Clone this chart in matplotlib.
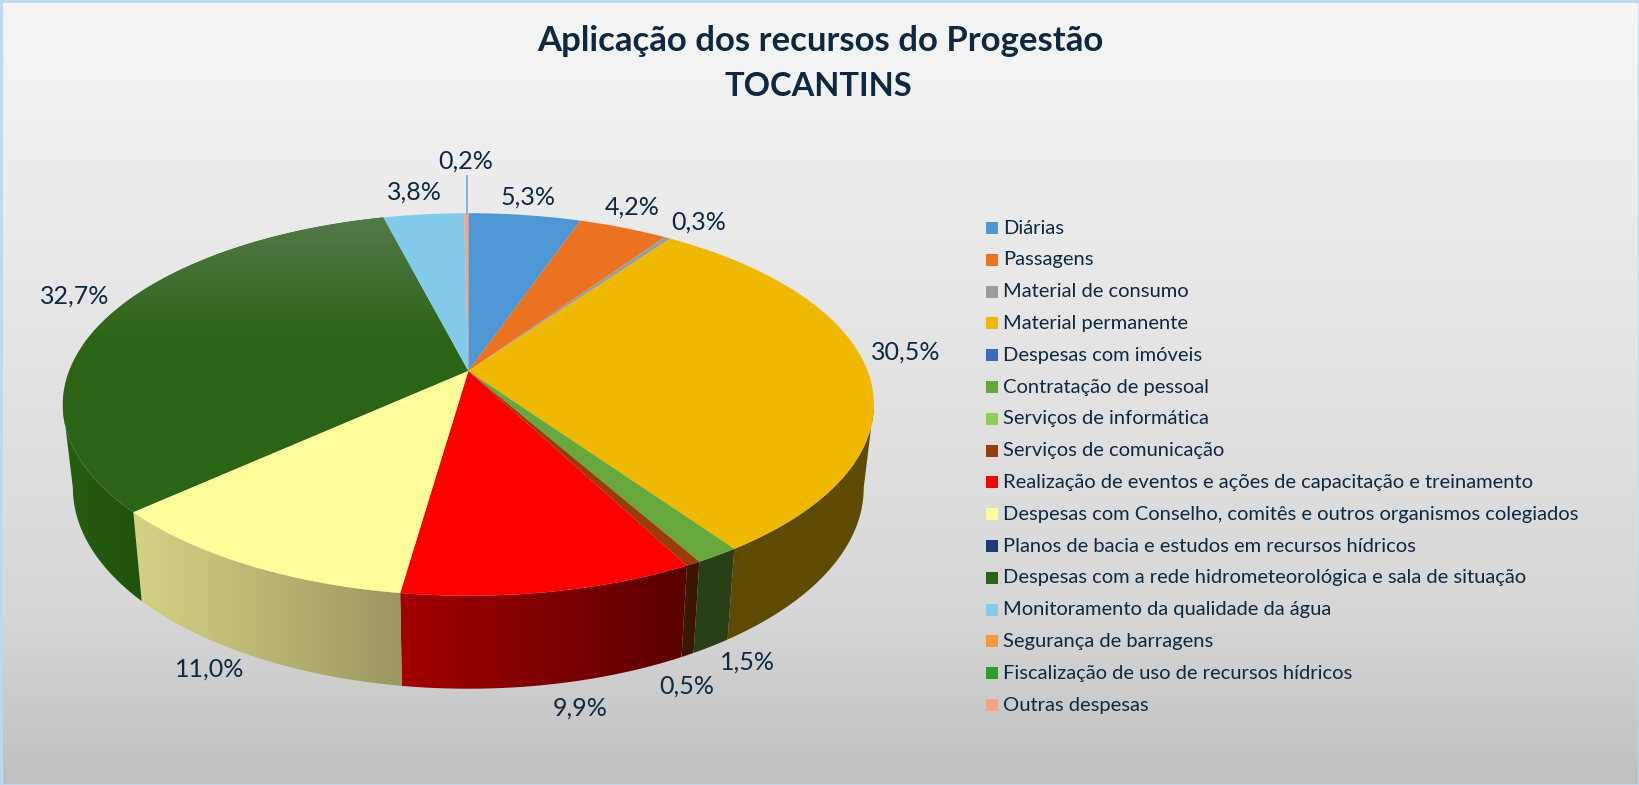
import numpy as np
import matplotlib
matplotlib.use('Agg')
import matplotlib.pyplot as plt
from matplotlib.colors import LinearSegmentedColormap
from matplotlib.patches import Polygon, Rectangle

plt.rcParams['font.family'] = ['Lato', 'DejaVu Sans']

titulo = 'Aplicação dos recursos do Progestão'
subtitulo = 'TOCANTINS'
categorias = ['Diárias', 'Passagens', 'Material de consumo', 'Material permanente',
              'Despesas com imóveis', 'Contratação de pessoal', 'Serviços de informática',
              'Serviços de comunicação', 'Realização de eventos e ações de capacitação e treinamento',
              'Despesas com Conselho, comitês e outros organismos colegiados',
              'Planos de bacia e estudos em recursos hídricos',
              'Despesas com a rede hidrometeorológica e sala de situação',
              'Monitoramento da qualidade da água', 'Segurança de barragens',
              'Fiscalização de uso de recursos hídricos', 'Outras despesas']
valores = [5.3, 4.2, 0.3, 30.5, 0, 1.5, 0, 0.5, 9.9, 11.0, 0, 32.7, 3.8, 0, 0, 0.2]
cores = ['#4f96d4', '#eb7221', '#9c9c9c', '#eeb900', '#3a6ac4', '#66a83c', '#8cce50', '#9a3b0c',
         '#ff0000', '#fdfd99', '#1f3a78', '#2a6414', '#83cbea', '#f79b3a', '#2aa02a', '#f4a582']
# cor da parede lateral (esquerda, direita), só as fatias da frente
cores_lado = {3: ('#5e4b00', '#5e4b00'), 5: ('#283f17', '#283f17'), 7: ('#3a1702', '#3a1702'),
              8: ('#a30000', '#5a0000'), 9: ('#d6d284', '#9a9860'), 11: ('#275f10', '#1f520a')}
# centro dos rótulos em pixels
pos_rotulos = {0: (528, 197), 1: (632, 207), 2: (699, 222), 3: (906, 352), 5: (747, 662),
               7: (687, 686), 8: (580, 708), 9: (210, 669), 11: (75, 296), 12: (414, 192),
               15: (466, 161)}

LARG, ALT = 1639, 785
CX, CY = 468.3, 371.0
A, B, K = 399.3, 185.4, 0.175
COR_TEXTO = '#0e2841'
# ângulos onde a lateral do disco deixa de ser visível
ANG_DIR = np.arccos(-K)
ANG_ESQ = 2 * np.pi - ANG_DIR


def topo(ang):
    # ang em radianos, sentido horário a partir do topo, com perspectiva
    x, y = np.sin(ang), np.cos(ang)
    s = 1 / (1 + K * y)
    return CX + A * x * s, CY - B * y * s


def base(ang):
    x, y = topo(ang)
    return CX + (x - CX) * 0.975, y * 1.05 + 63.2


def gradiente(ax, paradas, extent, patch, horizontal=True):
    cmap = LinearSegmentedColormap.from_list('g', paradas)
    g = np.linspace(0, 1, 256)
    g = g.reshape(1, -1) if horizontal else g.reshape(-1, 1)
    im = ax.imshow(g, cmap=cmap, extent=extent, aspect='auto', origin='upper', vmin=0, vmax=1,
                   zorder=patch.get_zorder(), interpolation='bilinear')
    im.set_clip_path(patch)


fig = plt.figure(figsize=(LARG / 100, ALT / 100), dpi=100)
ax = fig.add_axes([0, 0, 1, 1])

# fundo
fundo = Rectangle((0, 0), LARG, ALT, fc='none', ec='none', zorder=0)
ax.add_patch(fundo)
gradiente(ax, [(0, '#f6f6f6'), (0.5, '#e2e2e2'), (0.78, '#d7d7d7'), (1, '#c0c0c0')],
          (0, LARG, ALT, 0), fundo, horizontal=False)

# limites de cada fatia
fracoes = np.array(valores) / sum(valores)
limites = np.concatenate([[0], np.cumsum(fracoes)]) * 2 * np.pi
fatias = [i for i, v in enumerate(valores) if v > 0]

# paredes laterais (só a parte da frente)
for i in cores_lado:
    ini = max(limites[i], ANG_DIR)
    fim = min(limites[i + 1], ANG_ESQ)
    ang = np.linspace(ini, fim, 120)
    xt, yt = topo(ang)
    xb, yb = base(ang)
    pts = np.column_stack([np.r_[xt, xb[::-1]], np.r_[yt, yb[::-1]]])
    p = Polygon(pts, closed=True, fc='none', ec='none', zorder=2)
    ax.add_patch(p)
    extent = (pts[:, 0].min(), pts[:, 0].max(), pts[:, 1].max(), pts[:, 1].min())
    # a parede é percorrida da direita para a esquerda
    gradiente(ax, list(cores_lado[i]), extent, p)

# face superior
for i in fatias:
    ang = np.linspace(limites[i], limites[i + 1], 160)
    xt, yt = topo(ang)
    pts = np.column_stack([np.r_[CX, xt], np.r_[CY, yt]])
    if i == 11:
        # brilho na parte de cima da fatia verde
        p = Polygon(pts, closed=True, fc='none', ec='none', zorder=3)
        ax.add_patch(p)
        gradiente(ax, ['#55794a', '#2a6414'], (pts[:, 0].min(), pts[:, 0].max(), 345, 215), p,
                  horizontal=False)
        ax.add_patch(Polygon(pts, closed=True, fc=cores[i], ec='none', zorder=2.5))
    else:
        ax.add_patch(Polygon(pts, closed=True, fc=cores[i], ec='none', zorder=3))

# linha guia do rótulo 0,2%
ax.plot([466.5, 466.5], [176, 213], color='#7fb2e5', lw=1.4, zorder=4)

# rótulos
for i, (x, y) in pos_rotulos.items():
    ax.text(x, y, f'{valores[i]:.1f}%'.replace('.', ','), ha='center', va='center',
            fontsize=18, color=COR_TEXTO, zorder=5)

# legenda
for n, (cat, cor) in enumerate(zip(categorias, cores)):
    y = 228 + n * 31.8
    ax.add_patch(Rectangle((986, y - 6), 12, 12, fc=cor, ec='none', zorder=5))
    ax.text(1003, y, cat, ha='left', va='center', fontsize=14.5, color=COR_TEXTO, zorder=5)

ax.text(820, 41, titulo, ha='center', va='center', fontsize=25, fontweight='bold',
        color=COR_TEXTO, zorder=5)
ax.text(818.5, 87, subtitulo, ha='center', va='center', fontsize=23.5, fontweight='bold',
        color=COR_TEXTO, zorder=5)

# borda
ax.add_patch(Rectangle((0.5, 0.5), LARG - 1, ALT - 1, fc='none', ec='#bcd8f2', lw=2, zorder=6))

ax.set_xlim(0, LARG)
ax.set_ylim(ALT, 0)
ax.axis('off')
fig.savefig('out.png', dpi=100)
